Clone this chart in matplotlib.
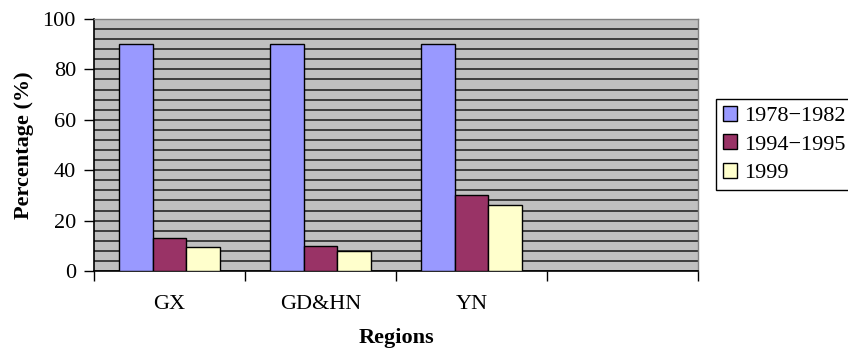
import numpy as np
import matplotlib.pyplot as plt
from matplotlib.ticker import MultipleLocator

regions = ['GX', 'GD&HN', 'YN']
periods = ['1978\u22121982', '1994\u22121995', '1999']
share_1978_1982 = [90, 90, 90]
share_1994_1995 = [13, 10, 30]
share_1999 = [9.5, 8, 26]

colors = ['#9999FF', '#993366', '#FFFFCC']
serif = ['Liberation Serif', 'DejaVu Serif']

plt.rcParams['font.family'] = serif

fig = plt.figure(figsize=(8.48, 3.5), dpi=100)
ax = fig.add_axes([94 / 848, 1 - 271 / 350, (698 - 94) / 848, (271 - 19) / 350])
ax.set_facecolor('#C0C0C0')

# one spare empty slot on the right of the category axis
n_slots = len(regions) + 1
x = np.arange(len(regions))
width = 0.225
series = [share_1978_1982, share_1994_1995, share_1999]
for i, (vals, label) in enumerate(zip(series, periods)):
    ax.bar(x + (i - 1) * width, vals, width, color=colors[i], edgecolor='black',
           linewidth=1.0, label=label, zorder=3)

ax.set_xlim(-0.5, n_slots - 0.5)
ax.set_ylim(0, 100)
ax.yaxis.set_major_locator(MultipleLocator(20))
ax.yaxis.set_minor_locator(MultipleLocator(4))
ax.grid(axis='y', which='both', color='#1a1a1a', linewidth=1.1, zorder=1)
ax.set_axisbelow(True)

# category boundaries carry the tick marks, names sit at the centres
ax.set_xticks(np.arange(n_slots + 1) - 0.5)
ax.set_xticklabels([])
ax.set_xticks(x, minor=True)
ax.set_xticklabels(regions, minor=True, fontsize=16)
ax.tick_params(axis='x', which='major', direction='out', length=7, width=1, color='black')
ax.tick_params(axis='x', which='minor', length=0, pad=17)
ax.tick_params(axis='y', which='major', direction='out', length=7, width=1,
               labelsize=16, pad=6)
ax.tick_params(axis='y', which='minor', length=0)

for side in ['top', 'right']:
    ax.spines[side].set_color('#808080')
    ax.spines[side].set_linewidth(1.0)
for side in ['left', 'bottom']:
    ax.spines[side].set_color('black')
    ax.spines[side].set_linewidth(1.2)

ax.set_ylabel('Percentage (%)', fontsize=16, fontweight='bold', labelpad=6)
ax.set_xlabel('Regions', fontsize=16, fontweight='bold', labelpad=10)

leg = ax.legend(loc='upper left', bbox_to_anchor=(716 / 848, 1 - 99 / 350),
                bbox_transform=fig.transFigure, fontsize=16, frameon=True,
                fancybox=False, edgecolor='black', framealpha=1,
                handlelength=0.65, handleheight=0.65, handletextpad=0.3,
                labelspacing=0.38, borderpad=0.3, borderaxespad=0)
leg.get_frame().set_linewidth(1.0)

fig.savefig('out.png', dpi=100)
